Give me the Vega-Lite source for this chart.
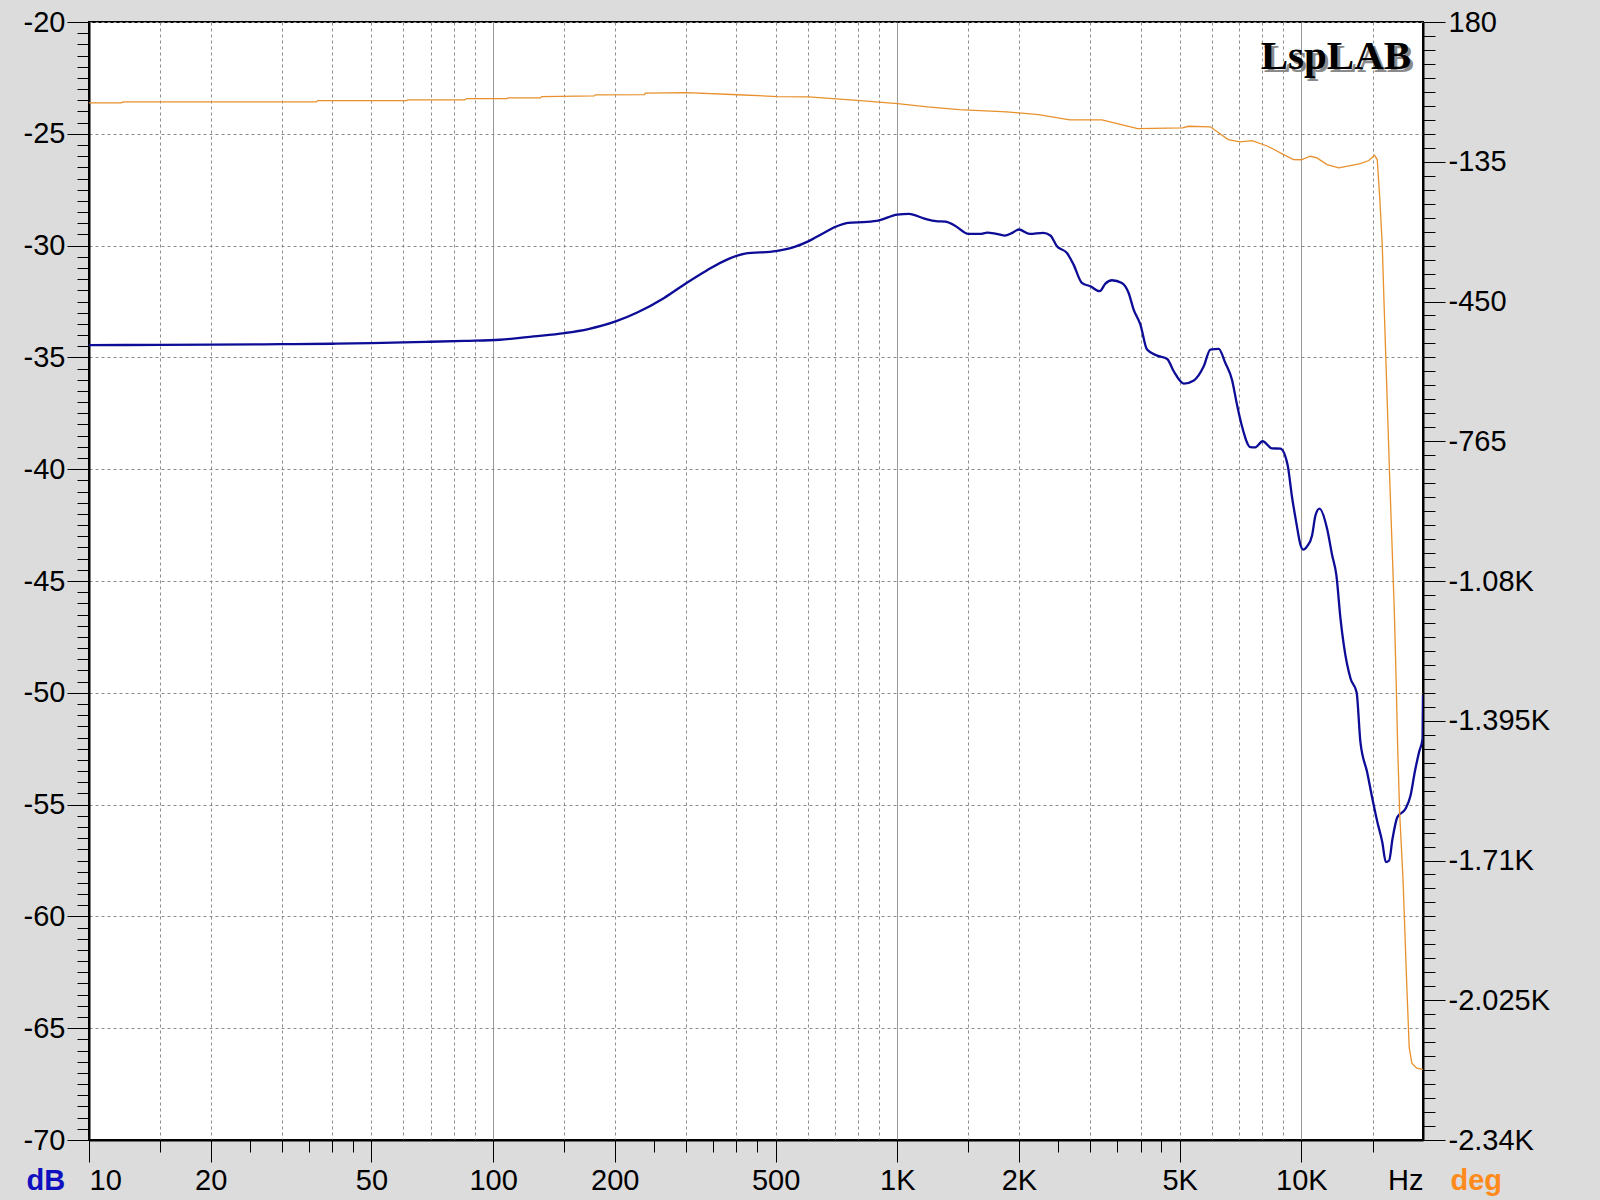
{
  "$schema": "https://vega.github.io/schema/vega-lite/v6.json",
  "width": 1334,
  "height": 1118,
  "autosize": {"type": "none"},
  "padding": {"left": 89, "top": 22, "right": 177, "bottom": 60},
  "background": "#dcdcdc",
  "config": {
    "view": {"fill": "white", "stroke": "black", "strokeWidth": 2},
    "axis": {
      "labelFont": "Liberation Sans",
      "labelFontSize": 29,
      "labelColor": "black",
      "tickColor": "black",
      "tickWidth": 1,
      "domainColor": "black",
      "domainWidth": 2,
      "gridColor": "#8c8c8c",
      "gridWidth": 1,
      "labelOverlap": false,
      "titleFont": "Liberation Sans",
      "titleFontSize": 29,
      "titleFontWeight": "bold"
    }
  },
  "datasets": {
    "mag": [
      {"f": 10, "db": -34.45}, {"f": 15, "db": -34.44}, {"f": 20, "db": -34.43}, {"f": 30, "db": -34.41},
      {"f": 40, "db": -34.39}, {"f": 50, "db": -34.36}, {"f": 60, "db": -34.33}, {"f": 70, "db": -34.3},
      {"f": 85, "db": -34.26}, {"f": 104, "db": -34.21}, {"f": 126, "db": -34.06}, {"f": 150, "db": -33.91},
      {"f": 172, "db": -33.73}, {"f": 201, "db": -33.39}, {"f": 228, "db": -32.98}, {"f": 265, "db": -32.34},
      {"f": 301, "db": -31.67}, {"f": 337, "db": -31.12}, {"f": 384, "db": -30.58}, {"f": 420, "db": -30.36},
      {"f": 501, "db": -30.25}, {"f": 557, "db": -30.06}, {"f": 602, "db": -29.81}, {"f": 663, "db": -29.4},
      {"f": 703, "db": -29.16}, {"f": 755, "db": -28.98}, {"f": 842, "db": -28.94}, {"f": 901, "db": -28.87},
      {"f": 1000, "db": -28.61}, {"f": 1069, "db": -28.58}, {"f": 1167, "db": -28.79}, {"f": 1247, "db": -28.91},
      {"f": 1316, "db": -28.93}, {"f": 1390, "db": -29.11}, {"f": 1500, "db": -29.48}, {"f": 1600, "db": -29.48},
      {"f": 1671, "db": -29.42}, {"f": 1746, "db": -29.46}, {"f": 1844, "db": -29.55}, {"f": 1926, "db": -29.43},
      {"f": 2000, "db": -29.28}, {"f": 2127, "db": -29.48}, {"f": 2295, "db": -29.43}, {"f": 2393, "db": -29.55},
      {"f": 2484, "db": -30.03}, {"f": 2630, "db": -30.33}, {"f": 2731, "db": -30.85}, {"f": 2864, "db": -31.67},
      {"f": 3005, "db": -31.82}, {"f": 3170, "db": -32.04}, {"f": 3274, "db": -31.7}, {"f": 3399, "db": -31.55},
      {"f": 3597, "db": -31.67}, {"f": 3738, "db": -32.12}, {"f": 3846, "db": -32.86}, {"f": 3997, "db": -33.53},
      {"f": 4151, "db": -34.65}, {"f": 4396, "db": -34.92}, {"f": 4656, "db": -35.07}, {"f": 4833, "db": -35.62},
      {"f": 5119, "db": -36.17}, {"f": 5421, "db": -36.03}, {"f": 5733, "db": -35.4}, {"f": 5954, "db": -34.65},
      {"f": 6243, "db": -34.62}, {"f": 6486, "db": -35.25}, {"f": 6735, "db": -36.0}, {"f": 6930, "db": -37.11},
      {"f": 7130, "db": -38.08}, {"f": 7477, "db": -39.01}, {"f": 7690, "db": -39.02}, {"f": 8019, "db": -38.75},
      {"f": 8458, "db": -39.07}, {"f": 8874, "db": -39.08}, {"f": 9245, "db": -39.8}, {"f": 9478, "db": -41.22},
      {"f": 9721, "db": -42.41}, {"f": 9950, "db": -43.38}, {"f": 10100, "db": -43.6}, {"f": 10330, "db": -43.45},
      {"f": 10630, "db": -42.96}, {"f": 10840, "db": -42.06}, {"f": 11090, "db": -41.76}, {"f": 11580, "db": -42.66},
      {"f": 11920, "db": -43.85}, {"f": 12210, "db": -44.75}, {"f": 12500, "db": -46.69}, {"f": 12740, "db": -47.88},
      {"f": 13240, "db": -49.37}, {"f": 13700, "db": -49.97}, {"f": 14000, "db": -52.2}, {"f": 14550, "db": -53.55},
      {"f": 14990, "db": -54.74}, {"f": 15420, "db": -55.78}, {"f": 15860, "db": -56.68}, {"f": 16180, "db": -57.57},
      {"f": 16490, "db": -57.5}, {"f": 16810, "db": -56.53}, {"f": 17280, "db": -55.56}, {"f": 18100, "db": -55.19},
      {"f": 18630, "db": -54.59}, {"f": 19080, "db": -53.55}, {"f": 19560, "db": -52.65}, {"f": 19950, "db": -52.05},
      {"f": 20000, "db": -50.1}
    ],
    "phase": [
      {"f": 10, "deg": -2.2}, {"f": 12, "deg": -2.0}, {"f": 12.2, "deg": 0.0}, {"f": 36.5, "deg": 0.0},
      {"f": 36.8, "deg": 3.0}, {"f": 61, "deg": 3.0}, {"f": 61.5, "deg": 4.5}, {"f": 85, "deg": 4.5},
      {"f": 86, "deg": 7.5}, {"f": 108, "deg": 7.5}, {"f": 109, "deg": 9.0}, {"f": 131, "deg": 9.0},
      {"f": 132, "deg": 12.0}, {"f": 178, "deg": 13.5}, {"f": 179, "deg": 15.8}, {"f": 237, "deg": 16.5},
      {"f": 238, "deg": 19.5}, {"f": 300, "deg": 21.0}, {"f": 403, "deg": 16.0}, {"f": 505, "deg": 12.0},
      {"f": 604, "deg": 11.3}, {"f": 707, "deg": 6.8}, {"f": 810, "deg": 3.0}, {"f": 1002, "deg": -3.8},
      {"f": 1188, "deg": -11.3}, {"f": 1423, "deg": -17.3}, {"f": 1865, "deg": -22.6}, {"f": 2235, "deg": -28.6},
      {"f": 2675, "deg": -40.6}, {"f": 3210, "deg": -40.6}, {"f": 3935, "deg": -60.2}, {"f": 5083, "deg": -58.6},
      {"f": 5260, "deg": -55.0}, {"f": 5955, "deg": -56.3}, {"f": 6590, "deg": -85.0}, {"f": 7050, "deg": -90.2},
      {"f": 7550, "deg": -87.2}, {"f": 8260, "deg": -100.0}, {"f": 9040, "deg": -118.8}, {"f": 9560, "deg": -130.0},
      {"f": 9990, "deg": -130.5}, {"f": 10520, "deg": -122.6}, {"f": 10930, "deg": -126.3}, {"f": 11580, "deg": -141.3},
      {"f": 12370, "deg": -148.8}, {"f": 13220, "deg": -143.6}, {"f": 14000, "deg": -139.0}, {"f": 14690, "deg": -132.3},
      {"f": 15170, "deg": -120.3}, {"f": 15410, "deg": -130.0}, {"f": 15640, "deg": -220.0}, {"f": 15860, "deg": -325.6},
      {"f": 16010, "deg": -445.8}, {"f": 16548, "deg": -851.7}, {"f": 16770, "deg": -1002.0}, {"f": 16990, "deg": -1151.6},
      {"f": 17160, "deg": -1301.7}, {"f": 17310, "deg": -1453.0}, {"f": 17510, "deg": -1603.0}, {"f": 17850, "deg": -1753.7},
      {"f": 18240, "deg": -1994.0}, {"f": 18490, "deg": -2132.0}, {"f": 18770, "deg": -2167.0}, {"f": 19300, "deg": -2178.0},
      {"f": 20000, "deg": -2181.0}
    ],
    "brand": [{"f": 18690, "db": -22.09, "t": "LspLAB"}]
  },
  "layer": [
    {
      "data": {"name": "mag"},
      "mark": {"type": "line", "color": "#0c0c96", "strokeWidth": 2.3, "interpolate": "monotone", "clip": true},
      "encoding": {
        "x": {
          "field": "f", "type": "quantitative",
          "scale": {"type": "log", "domain": [10, 20000], "nice": false},
          "axis": {
            "orient": "bottom",
            "title": null,
            "values": [10, 20, 50, 100, 200, 500, 1000, 2000, 5000, 10000],
            "labelExpr": "datum.value == 10 ? '' : datum.value >= 1000 ? (datum.value / 1000) + 'K' : '' + datum.value",
            "labelFlush": false,
            "labelAlign": "center",
            "labelPadding": 4,
            "tickSize": 22,
            "grid": false
          }
        },
        "y": {
          "field": "db", "type": "quantitative",
          "scale": {"domain": [-70, -20], "nice": false, "zero": false},
          "axis": {
            "orient": "left",
            "title": "dB",
            "titleColor": "#1010c0",
            "titleAngle": 0,
            "titleAlign": "left",
            "titleBaseline": "alphabetic",
            "titleX": -63,
            "titleY": 1167,
            "values": [-70,-69.5,-69,-68.5,-68,-67.5,-67,-66.5,-66,-65.5,-65,-64.5,-64,-63.5,-63,-62.5,-62,-61.5,-61,-60.5,-60,-59.5,-59,-58.5,-58,-57.5,-57,-56.5,-56,-55.5,-55,-54.5,-54,-53.5,-53,-52.5,-52,-51.5,-51,-50.5,-50,-49.5,-49,-48.5,-48,-47.5,-47,-46.5,-46,-45.5,-45,-44.5,-44,-43.5,-43,-42.5,-42,-41.5,-41,-40.5,-40,-39.5,-39,-38.5,-38,-37.5,-37,-36.5,-36,-35.5,-35,-34.5,-34,-33.5,-33,-32.5,-32,-31.5,-31,-30.5,-30,-29.5,-29,-28.5,-28,-27.5,-27,-26.5,-26,-25.5,-25,-24.5,-24,-23.5,-23,-22.5,-22,-21.5,-21,-20.5,-20],
            "labelExpr": "datum.value % 5 == 0 ? '' + datum.value : ''",
            "labelPadding": 2,
            "tickSize": {"condition": {"test": "datum.value % 5 == 0", "value": 22}, "value": 12},
            "grid": true,
            "gridDash": [3, 3],
            "gridOpacity": {"condition": {"test": "datum.value % 5 == 0", "value": 1}, "value": 0}
          }
        }
      }
    },
    {
      "data": {"name": "phase"},
      "mark": {"type": "line", "color": "#e8902c", "strokeWidth": 1.3, "interpolate": "linear", "clip": true},
      "encoding": {
        "x": {
          "field": "f", "type": "quantitative",
          "scale": {"type": "log", "domain": [10, 20000], "nice": false},
          "axis": {
            "orient": "bottom",
            "title": null,
            "values": [10, 20000],
            "labelExpr": "datum.value == 10 ? '10' : 'Hz'",
            "labelFlush": true,
            "labelPadding": 4,
            "tickSize": 22,
            "tickOpacity": 0,
            "domain": false,
            "grid": false
          }
        },
        "y": {
          "field": "deg", "type": "quantitative",
          "scale": {"domain": [-2340, 180], "nice": false, "zero": false},
          "axis": {
            "orient": "right",
            "title": "deg",
            "titleColor": "#ff8a1c",
            "titleAngle": 0,
            "titleAlign": "left",
            "titleBaseline": "alphabetic",
            "titleX": 27,
            "titleY": 1167,
            "values": [180,148.5,117,85.5,54,22.5,-9,-40.5,-72,-103.5,-135,-166.5,-198,-229.5,-261,-292.5,-324,-355.5,-387,-418.5,-450,-481.5,-513,-544.5,-576,-607.5,-639,-670.5,-702,-733.5,-765,-796.5,-828,-859.5,-891,-922.5,-954,-985.5,-1017,-1048.5,-1080,-1111.5,-1143,-1174.5,-1206,-1237.5,-1269,-1300.5,-1332,-1363.5,-1395,-1426.5,-1458,-1489.5,-1521,-1552.5,-1584,-1615.5,-1647,-1678.5,-1710,-1741.5,-1773,-1804.5,-1836,-1867.5,-1899,-1930.5,-1962,-1993.5,-2025,-2056.5,-2088,-2119.5,-2151,-2182.5,-2214,-2245.5,-2277,-2308.5,-2340],
            "labelExpr": "(180 - datum.value) % 315 == 0 ? (abs(datum.value) >= 1000 ? (datum.value/1000) + 'K' : '' + datum.value) : ''",
            "labelPadding": 3,
            "tickSize": {"condition": {"test": "(180 - datum.value) % 315 == 0", "value": 22}, "value": 12},
            "grid": false
          }
        }
      }
    },
    {
      "data": {"name": "brand"},
      "mark": {"type": "text", "font": "Liberation Serif", "fontWeight": "bold", "fontSize": 41, "align": "right", "baseline": "alphabetic", "color": "#8a8a8a", "dx": 3, "dy": 3},
      "encoding": {
        "x": {
          "field": "f", "type": "quantitative",
          "scale": {"type": "log", "domain": [10, 20000], "nice": false},
          "axis": {
            "orient": "bottom",
            "title": null,
            "values": [15, 25, 30, 35, 40, 45, 150, 250, 300, 350, 400, 450, 1500, 2500, 3000, 3500, 4000, 4500, 15000],
            "labels": false,
            "tickSize": 12,
            "domain": false,
            "grid": false
          }
        },
        "y": {"field": "db", "type": "quantitative", "scale": {"domain": [-70, -20], "nice": false, "zero": false}, "axis": null},
        "text": {"field": "t"}
      }
    },
    {
      "data": {"name": "brand"},
      "mark": {"type": "text", "font": "Liberation Serif", "fontWeight": "bold", "fontSize": 41, "align": "right", "baseline": "alphabetic", "color": "black"},
      "encoding": {
        "x": {
          "field": "f", "type": "quantitative",
          "scale": {"type": "log", "domain": [10, 20000], "nice": false},
          "axis": {
            "orient": "bottom",
            "title": null,
            "values": [15, 20, 30, 40, 50, 60, 70, 80, 90, 150, 200, 300, 400, 500, 600, 700, 800, 900, 1500, 2000, 3000, 4000, 5000, 6000, 7000, 8000, 9000, 15000],
            "labels": false,
            "ticks": false,
            "domain": false,
            "grid": true,
            "gridDash": [3, 3]
          }
        },
        "y": {"field": "db", "type": "quantitative", "scale": {"domain": [-70, -20], "nice": false, "zero": false}, "axis": null},
        "text": {"field": "t"}
      }
    },
    {
      "data": {"name": "brand"},
      "mark": {"type": "text", "fontSize": 41, "opacity": 0},
      "encoding": {
        "x": {
          "field": "f", "type": "quantitative",
          "scale": {"type": "log", "domain": [10, 20000], "nice": false},
          "axis": {
            "orient": "bottom",
            "title": null,
            "values": [100, 1000, 10000],
            "labels": false,
            "ticks": false,
            "domain": false,
            "grid": true,
            "gridColor": "#999999",
            "gridDash": []
          }
        },
        "y": {"field": "db", "type": "quantitative", "scale": {"domain": [-70, -20], "nice": false, "zero": false}, "axis": null},
        "text": {"field": "t"}
      }
    }
  ],
  "resolve": {"scale": {"y": "independent"}, "axis": {"x": "independent", "y": "independent"}}
}
